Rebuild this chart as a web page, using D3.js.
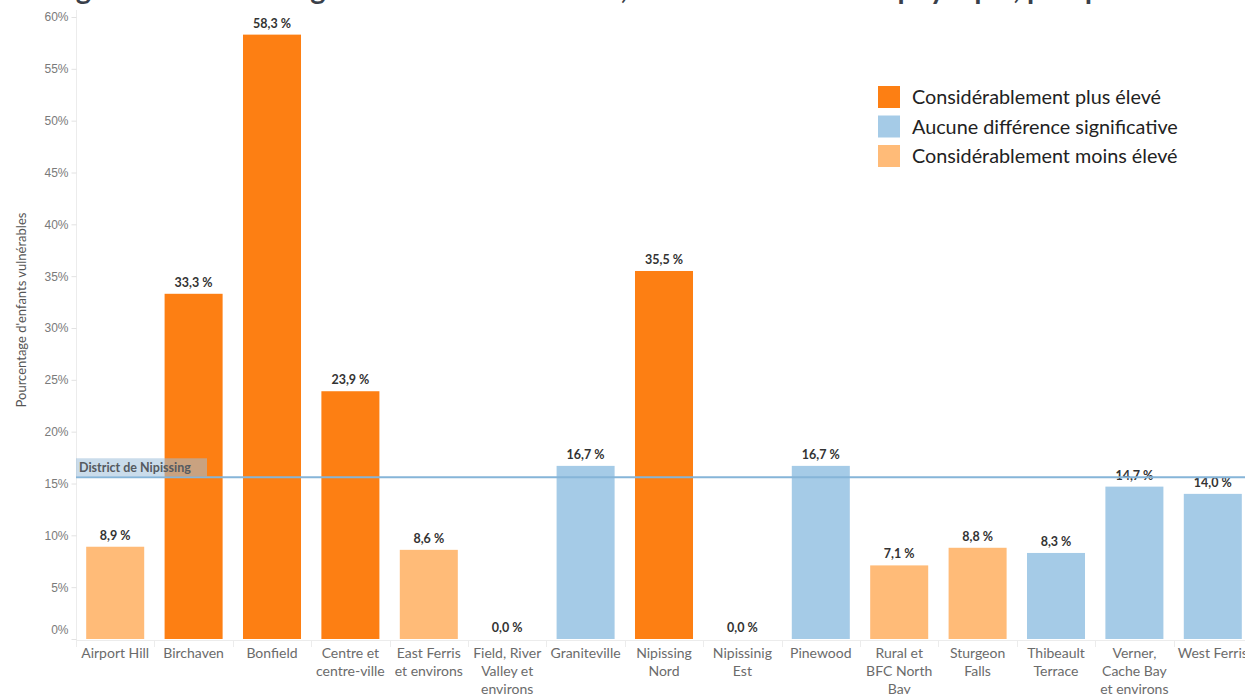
<!DOCTYPE html>
<html><head><meta charset="utf-8">
<script src="https://cdn.jsdelivr.net/npm/d3@7"></script>
<style>
html,body{margin:0;padding:0;background:#fff;overflow:hidden;}
svg{display:block;font-family:Lato,"Noto Sans",sans-serif;}
</style></head>
<body>
<svg id="chart" width="1245" height="694"></svg>
<script>
const categories = ["Airport Hill","Birchaven","Bonfield","Centre et\ncentre-ville","East Ferris\net environs","Field, River\nValley et\nenvirons","Graniteville","Nipissing\nNord","Nipissinig\nEst","Pinewood","Rural et\nBFC North\nBay","Sturgeon\nFalls","Thibeault\nTerrace","Verner,\nCache Bay\net environs","West Ferris"];
const values = [8.9,33.3,58.3,23.9,8.6,0.0,16.7,35.5,0.0,16.7,7.1,8.8,8.3,14.7,14.0];
const groups = ["low","high","high","high","low","none","none","high","none","none","low","low","none","none","none"];
const groupKeys = ["high","none","low"];
const groupLabels = ["Considérablement plus élevé","Aucune différence significative","Considérablement moins élevé"];
const groupColors = ["#fd7f13","#a5cbe7","#ffbb78"];
const yTicks = [0,5,10,15,20,25,30,35,40,45,50,55,60];
const districtValue = 15.6;
const districtLabel = "District de Nipissing";
const yTitle = "Pourcentage d'enfants vulnérables";
const title = "Figure 5 : Pourcentage d'enfants vulnérables, domaine de la santé physique, par quartier";

const svg = d3.select("#chart");
const x = d3.scaleBand().domain(categories).range([76,1252]).paddingInner(0.26).paddingOuter(0.13);
const y = d3.scaleLinear().domain([0,60]).range([639,17]);
const color = d3.scaleOrdinal().domain(groupKeys).range(groupColors);
const fmt = v => d3.format(".1f")(v).replace(".", ",") + " %";

// title (cut off at top)
svg.append("text").attr("x",52).attr("y",-1)
  .attr("font-size",29).attr("font-weight","bold").attr("fill","#3a3f4a").text(title);

// bottom baseline and separators
svg.append("line").attr("x1",76).attr("x2",1245).attr("y1",640.5).attr("y2",640.5).attr("stroke","#ececec");
categories.forEach((c,i)=>{
  if(i===0) return;
  const xs = x(c) - x.step()*x.paddingInner()/2;
  svg.append("line").attr("x1",Math.round(xs)+0.5).attr("x2",Math.round(xs)+0.5)
    .attr("y1",640).attr("y2",647).attr("stroke","#ececec");
});

// y axis
const yAxis = d3.axisLeft(y).tickValues(yTicks).tickFormat(d=>d+"%").tickSize(5).tickPadding(3);
const ga = svg.append("g").attr("transform","translate(76.5,0)").call(yAxis);
ga.select(".domain").attr("stroke","#ececec").attr("d","M0,10V647");
ga.selectAll(".tick line").attr("stroke","#e2e2e2");
ga.selectAll(".tick text").attr("fill","#7a7a7a").attr("font-size",12)
  .attr("dy", d => d===0 ? "-0.5em" : "0.32em");

svg.append("text").attr("transform","translate(26,310) rotate(-90)")
  .attr("text-anchor","middle").attr("font-size",13).attr("fill","#555").text(yTitle);

// bars
const data = categories.map((c,i)=>({c, v:values[i], g:groups[i]}));
svg.selectAll("rect.bar").data(data).enter().append("rect").attr("class","bar")
  .attr("x",d=>x(d.c)).attr("width",x.bandwidth())
  .attr("y",d=>y(d.v)).attr("height",d=>y(0)-y(d.v))
  .attr("fill",d=>color(d.g));

// value labels
svg.selectAll("text.val").data(data).enter().append("text").attr("class","val")
  .attr("x",d=>x(d.c)+x.bandwidth()/2).attr("y",d=>y(d.v)-7)
  .attr("text-anchor","middle").attr("font-size",12.5).attr("font-weight","bold")
  .attr("fill","#333").text(d=>fmt(d.v));

// category labels
data.forEach(d=>{
  const t = svg.append("text").attr("x",x(d.c)+x.bandwidth()/2).attr("y",658)
    .attr("text-anchor","middle").attr("font-size",14).attr("fill","#6b6b6b");
  d.c.split("\n").forEach((line,j)=>{
    t.append("tspan").attr("x",x(d.c)+x.bandwidth()/2).attr("dy", j===0?0:18).text(line);
  });
});

// district reference line
svg.append("line").attr("x1",76).attr("x2",1245).attr("y1",y(districtValue)).attr("y2",y(districtValue))
  .attr("stroke","#86b5d8").attr("stroke-width",2);
svg.append("rect").attr("x",76).attr("y",y(districtValue)-19).attr("width",131).attr("height",18)
  .attr("fill","#9ec0da").attr("opacity",0.55);
svg.append("text").attr("x",79).attr("y",y(districtValue)-5).attr("font-size",12.5)
  .attr("font-weight","bold").attr("fill","#555a60").text(districtLabel);

// legend
const lg = svg.append("g").attr("transform","translate(878,86)");
groupKeys.forEach((k,i)=>{
  lg.append("rect").attr("x",0).attr("y",i*29.5).attr("width",22).attr("height",22).attr("fill",groupColors[i]);
  lg.append("text").attr("x",34).attr("y",i*29.5+18).attr("font-size",19.8).attr("fill","#222").text(groupLabels[i]);
});
</script>
</body></html>
